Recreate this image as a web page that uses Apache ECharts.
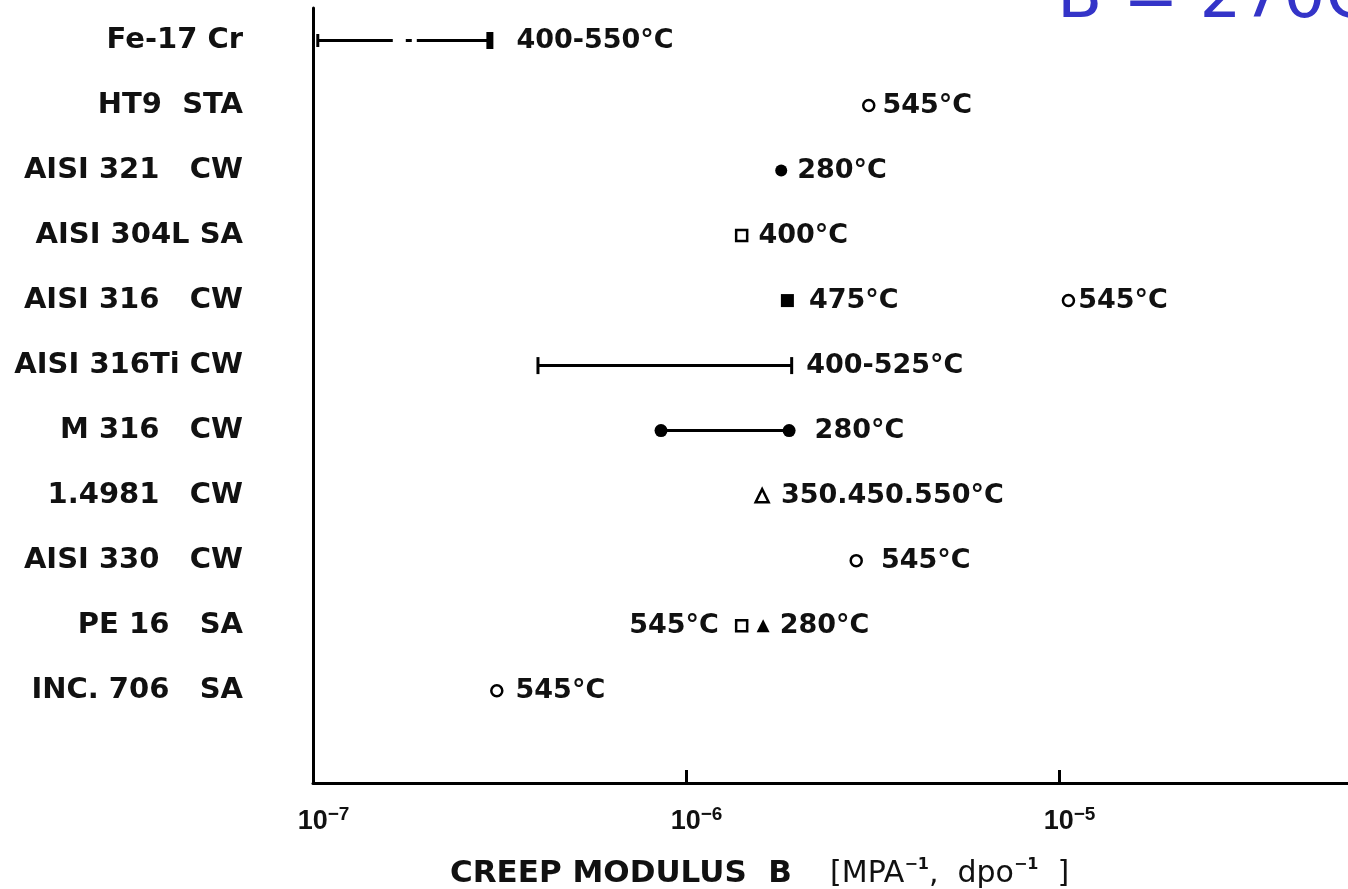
<!DOCTYPE html>
<html><head><meta charset="utf-8">
<script src="https://cdn.jsdelivr.net/npm/echarts@6/dist/echarts.min.js"></script>
<style>html,body{margin:0;padding:0;background:#fff}#c{width:1348px;height:889px}</style>
</head><body><div id="c"></div>
<script>
// ---------------- data ----------------
const materials = ['Fe-17 Cr', 'HT9  STA', 'AISI 321   CW', 'AISI 304L SA', 'AISI 316   CW',
  'AISI 316Ti CW', 'M 316   CW', '1.4981   CW', 'AISI 330   CW', 'PE 16   SA', 'INC. 706   SA'];
const xTickExponents = [-7, -6, -5, -4];

// ranges: [low, high] creep modulus, row index, label
const fe17crRange = [1.03e-7, 2.98e-7];
const fe17crRow = 0;
const fe17crLabel = '400-550°C';
const ti316Range = [4.01e-7, 1.92e-6];
const ti316Row = 5;
const ti316Label = '400-525°C';
const m316Range = [8.57e-7, 1.89e-6];
const m316Row = 6;
const m316Label = '280°C';

// single points
const openCircleX = [3.09e-6, 1.06e-5, 2.86e-6, 3.11e-7];
const openCircleRow = [1, 4, 8, 10];
const openCircleLabels = ['545°C', '545°C', '545°C', '545°C'];
const filledCircleX = [1.80e-6];
const filledCircleRow = [2];
const filledCircleLabels = ['280°C'];
const openSquareX = [1.41e-6, 1.41e-6];
const openSquareRow = [3, 9];
const openSquareLabels = ['400°C', '545°C'];
const filledSquareX = [1.87e-6];
const filledSquareRow = [4];
const filledSquareLabels = ['475°C'];
const openTriangleX = [1.60e-6];
const openTriangleRow = [7];
const openTriangleLabels = ['350.450.550°C'];
const filledTriangleX = [1.61e-6];
const filledTriangleRow = [9];
const filledTriangleLabels = ['280°C'];

// ---------------- style ----------------
const FONT = 'DejaVu Sans';
const INK = '#111';
const labelStyle = { fontFamily: FONT, fontWeight: 'bold', fontSize: 27, color: INK };
const openCircleGap = [7, 3, 18, 12];
const filledCircleGap = [10];
const openSquareGap = [10, 16];
const openSquareSide = ['right', 'left'];
const filledSquareGap = [15];
const openTriangleGap = [11];
const filledTriangleGap = [10];

function points(xs, rows, labels, gaps, sides) {
  return xs.map((x, i) => ({
    value: [x, rows[i]],
    label: { show: true, formatter: labels[i], distance: gaps[i], position: sides ? sides[i] : 'right' }
  }));
}
function scatter(data, symbol, size, filled) {
  return {
    type: 'scatter', data, symbol, symbolSize: size, silent: true, z: 3,
    itemStyle: { color: filled ? '#000' : '#fff', borderColor: '#000', borderWidth: filled ? 0 : 2.5, opacity: 1 },
    label: Object.assign({ show: true }, labelStyle)
  };
}
function range(r, row, text, capA, capB, symA, symB, gap, dash) {
  return {
    type: 'line', silent: true, z: 2, showSymbol: true, showAllSymbol: true,
    lineStyle: { color: '#000', width: 3, type: dash || 'solid' },
    itemStyle: { color: '#000', opacity: 1 },
    label: Object.assign({ show: false }, labelStyle),
    data: [
      { value: [r[0], row], symbol: symA, symbolSize: capA },
      { value: [r[1], row], symbol: symB, symbolSize: capB,
        label: { show: true, formatter: text, position: 'right', distance: gap } }
    ]
  };
}

const rowIdx = materials.map((_, i) => i);
const supMap = { '-7': '−7', '-6': '−6', '-5': '−5', '-4': '−4' };

const chart = echarts.init(document.getElementById('c'), null, { renderer: 'canvas' });
chart.setOption({
  animation: false,
  backgroundColor: '#fff',
  grid: { left: 313, top: 8, bottom: 106, right: -84, outerBoundsMode: 'none', containLabel: false },
  xAxis: {
    type: 'log', logBase: 10, min: 1e-7, max: 1e-4,
    axisLine: { show: true, onZero: false, lineStyle: { color: '#000', width: 3 } },
    axisTick: { show: true, inside: true, length: 13, lineStyle: { color: '#000', width: 3 } },
    minorTick: { show: false },
    splitLine: { show: false },
    axisLabel: {
      margin: 22,
      formatter: v => {
        const e = Math.round(Math.log10(v));
        const k = xTickExponents.indexOf(e);
        return '{p|}{b|10}{s|' + supMap[String(xTickExponents[k])] + '}';
      },
      rich: {
        p: { width: 21 },
        b: { fontFamily: 'Liberation Sans', fontWeight: 'bold', fontSize: 27, lineHeight: 30, color: INK, verticalAlign: 'bottom' },
        s: { fontFamily: 'Liberation Sans', fontWeight: 'bold', fontSize: 19, lineHeight: 17, color: INK, verticalAlign: 'top' }
      }
    }
  },
  yAxis: {
    type: 'value', inverse: true, min: -0.5, max: 11.42,
    axisLine: { show: true, onZero: false, lineStyle: { color: '#000', width: 3 } },
    axisTick: { show: false },
    splitLine: { show: false },
    axisLabel: {
      customValues: rowIdx,
      margin: 70,
      formatter: v => materials[v],
      fontFamily: FONT, fontWeight: 'bold', fontSize: 29, color: INK
    }
  },
  graphic: [
    {
      type: 'text', x: 450, y: 873,
      style: {
        text: '{a|CREEP MODULUS  B}{b|    [MPA}{s|−1}{b|,  dpo}{s|−1}{b|  ]}',
        verticalAlign: 'middle',
        rich: {
          a: { font: 'bold 31px "DejaVu Sans"', fill: INK, lineHeight: 32, verticalAlign: 'bottom' },
          b: { font: '30px "DejaVu Sans"', fill: INK, lineHeight: 32, verticalAlign: 'bottom' },
          s: { font: 'bold 16px "DejaVu Sans"', fill: INK, lineHeight: 15, verticalAlign: 'top' }
        }
      }
    },
    {
      type: 'text', x: 1057, y: 0,
      style: { text: 'B = 270C', font: '66px "DejaVu Sans"', fill: '#3434c8', verticalAlign: 'middle' }
    }
  ],
  series: [
    range(fe17crRange, fe17crRow, fe17crLabel, [3, 13], [7, 17], 'rect', 'rect', 23, [75, 13, 6, 5, 400]),
    range(ti316Range, ti316Row, ti316Label, [3, 17], [3, 17], 'rect', 'rect', 13),
    range(m316Range, m316Row, m316Label, 13, 13, 'circle', 'circle', 19),
    scatter(points(openCircleX, openCircleRow, openCircleLabels, openCircleGap), 'circle', 11, false),
    scatter(points(filledCircleX, filledCircleRow, filledCircleLabels, filledCircleGap), 'circle', 12, true),
    scatter(points(openSquareX, openSquareRow, openSquareLabels, openSquareGap, openSquareSide), 'rect', 11, false),
    scatter(points(filledSquareX, filledSquareRow, filledSquareLabels, filledSquareGap), 'rect', 13, true),
    scatter(points(openTriangleX, openTriangleRow, openTriangleLabels, openTriangleGap), 'triangle', 13, false),
    scatter(points(filledTriangleX, filledTriangleRow, filledTriangleLabels, filledTriangleGap), 'triangle', 13, true)
  ]
});
</script>
</body></html>
